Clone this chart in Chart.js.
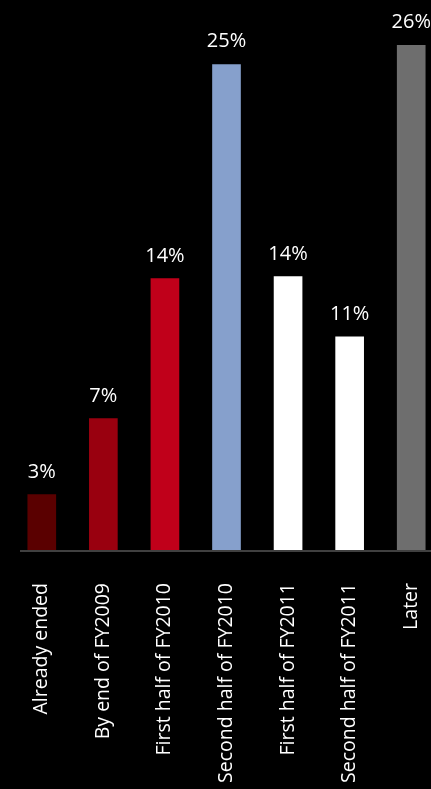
<!DOCTYPE html>
<html>
<head>
<meta charset="utf-8">
<script src="https://cdn.jsdelivr.net/npm/chart.js@4/dist/chart.umd.min.js"></script>
<style>
  html, body { margin: 0; padding: 0; background: #000; overflow: hidden; }
  #wrap { width: 450px; height: 789px; }
</style>
</head>
<body>
<div id="wrap"><canvas id="my-chart" width="450" height="789"></canvas></div>
<script>
const categories = [
  'Already ended',
  'By end of FY2009',
  'First half of FY2010',
  'Second half of FY2010',
  'First half of FY2011',
  'Second half of FY2011',
  'Later'
];
const values = [2.9, 6.8, 14, 25, 14.1, 11, 26];
const valueLabels = ['3%', '7%', '14%', '25%', '14%', '11%', '26%'];
const barColors = ['#5a0000', '#99000f', '#c0001a', '#86a0cc', '#ffffff', '#ffffff', '#6e6e6e'];

const valueLabelPlugin = {
  id: 'valueLabels',
  afterDatasetsDraw(chart) {
    const ctx = chart.ctx;
    const meta = chart.getDatasetMeta(0);
    ctx.save();
    ctx.fillStyle = '#ffffff';
    ctx.font = '20px "Open Sans"';
    ctx.textAlign = 'center';
    ctx.textBaseline = 'alphabetic';
    meta.data.forEach((bar, i) => {
      ctx.fillText(valueLabels[i], bar.x, bar.y - 17);
    });
    ctx.restore();
  }
};

const axisLinePlugin = {
  id: 'axisLine',
  afterDraw(chart) {
    const ctx = chart.ctx;
    const y = chart.scales.y.getPixelForValue(0);
    ctx.save();
    ctx.strokeStyle = '#404040';
    ctx.lineWidth = 2;
    ctx.beginPath();
    ctx.moveTo(20, y);
    ctx.lineTo(chart.width, y);
    ctx.stroke();
    ctx.restore();
  }
};

const ctx = document.getElementById('my-chart');
const myChart = new Chart(ctx, {
  type: 'bar',
  data: {
    labels: categories,
    datasets: [{
      data: values,
      backgroundColor: barColors,
      barThickness: 28
    }]
  },
  options: {
    responsive: false,
    animation: false,
    layout: { padding: { top: 45, left: 11, right: 8, bottom: 0 } },
    plugins: {
      legend: { display: false },
      tooltip: { enabled: false }
    },
    scales: {
      x: {
        grid: { display: false, drawTicks: false },
        border: { display: false },
        ticks: {
          color: '#ffffff',
          font: { family: 'Open Sans', size: 19.5 },
          minRotation: 90,
          maxRotation: 90,
          autoSkip: false,
          padding: 32
        },
        afterFit(scale) {
          scale.height = 238;
          scale.paddingLeft = 0;
          scale.paddingRight = 0;
        }
      },
      y: {
        display: false,
        min: 0,
        max: Math.max(...values)
      }
    }
  },
  plugins: [valueLabelPlugin, axisLinePlugin]
});
</script>
</body>
</html>
